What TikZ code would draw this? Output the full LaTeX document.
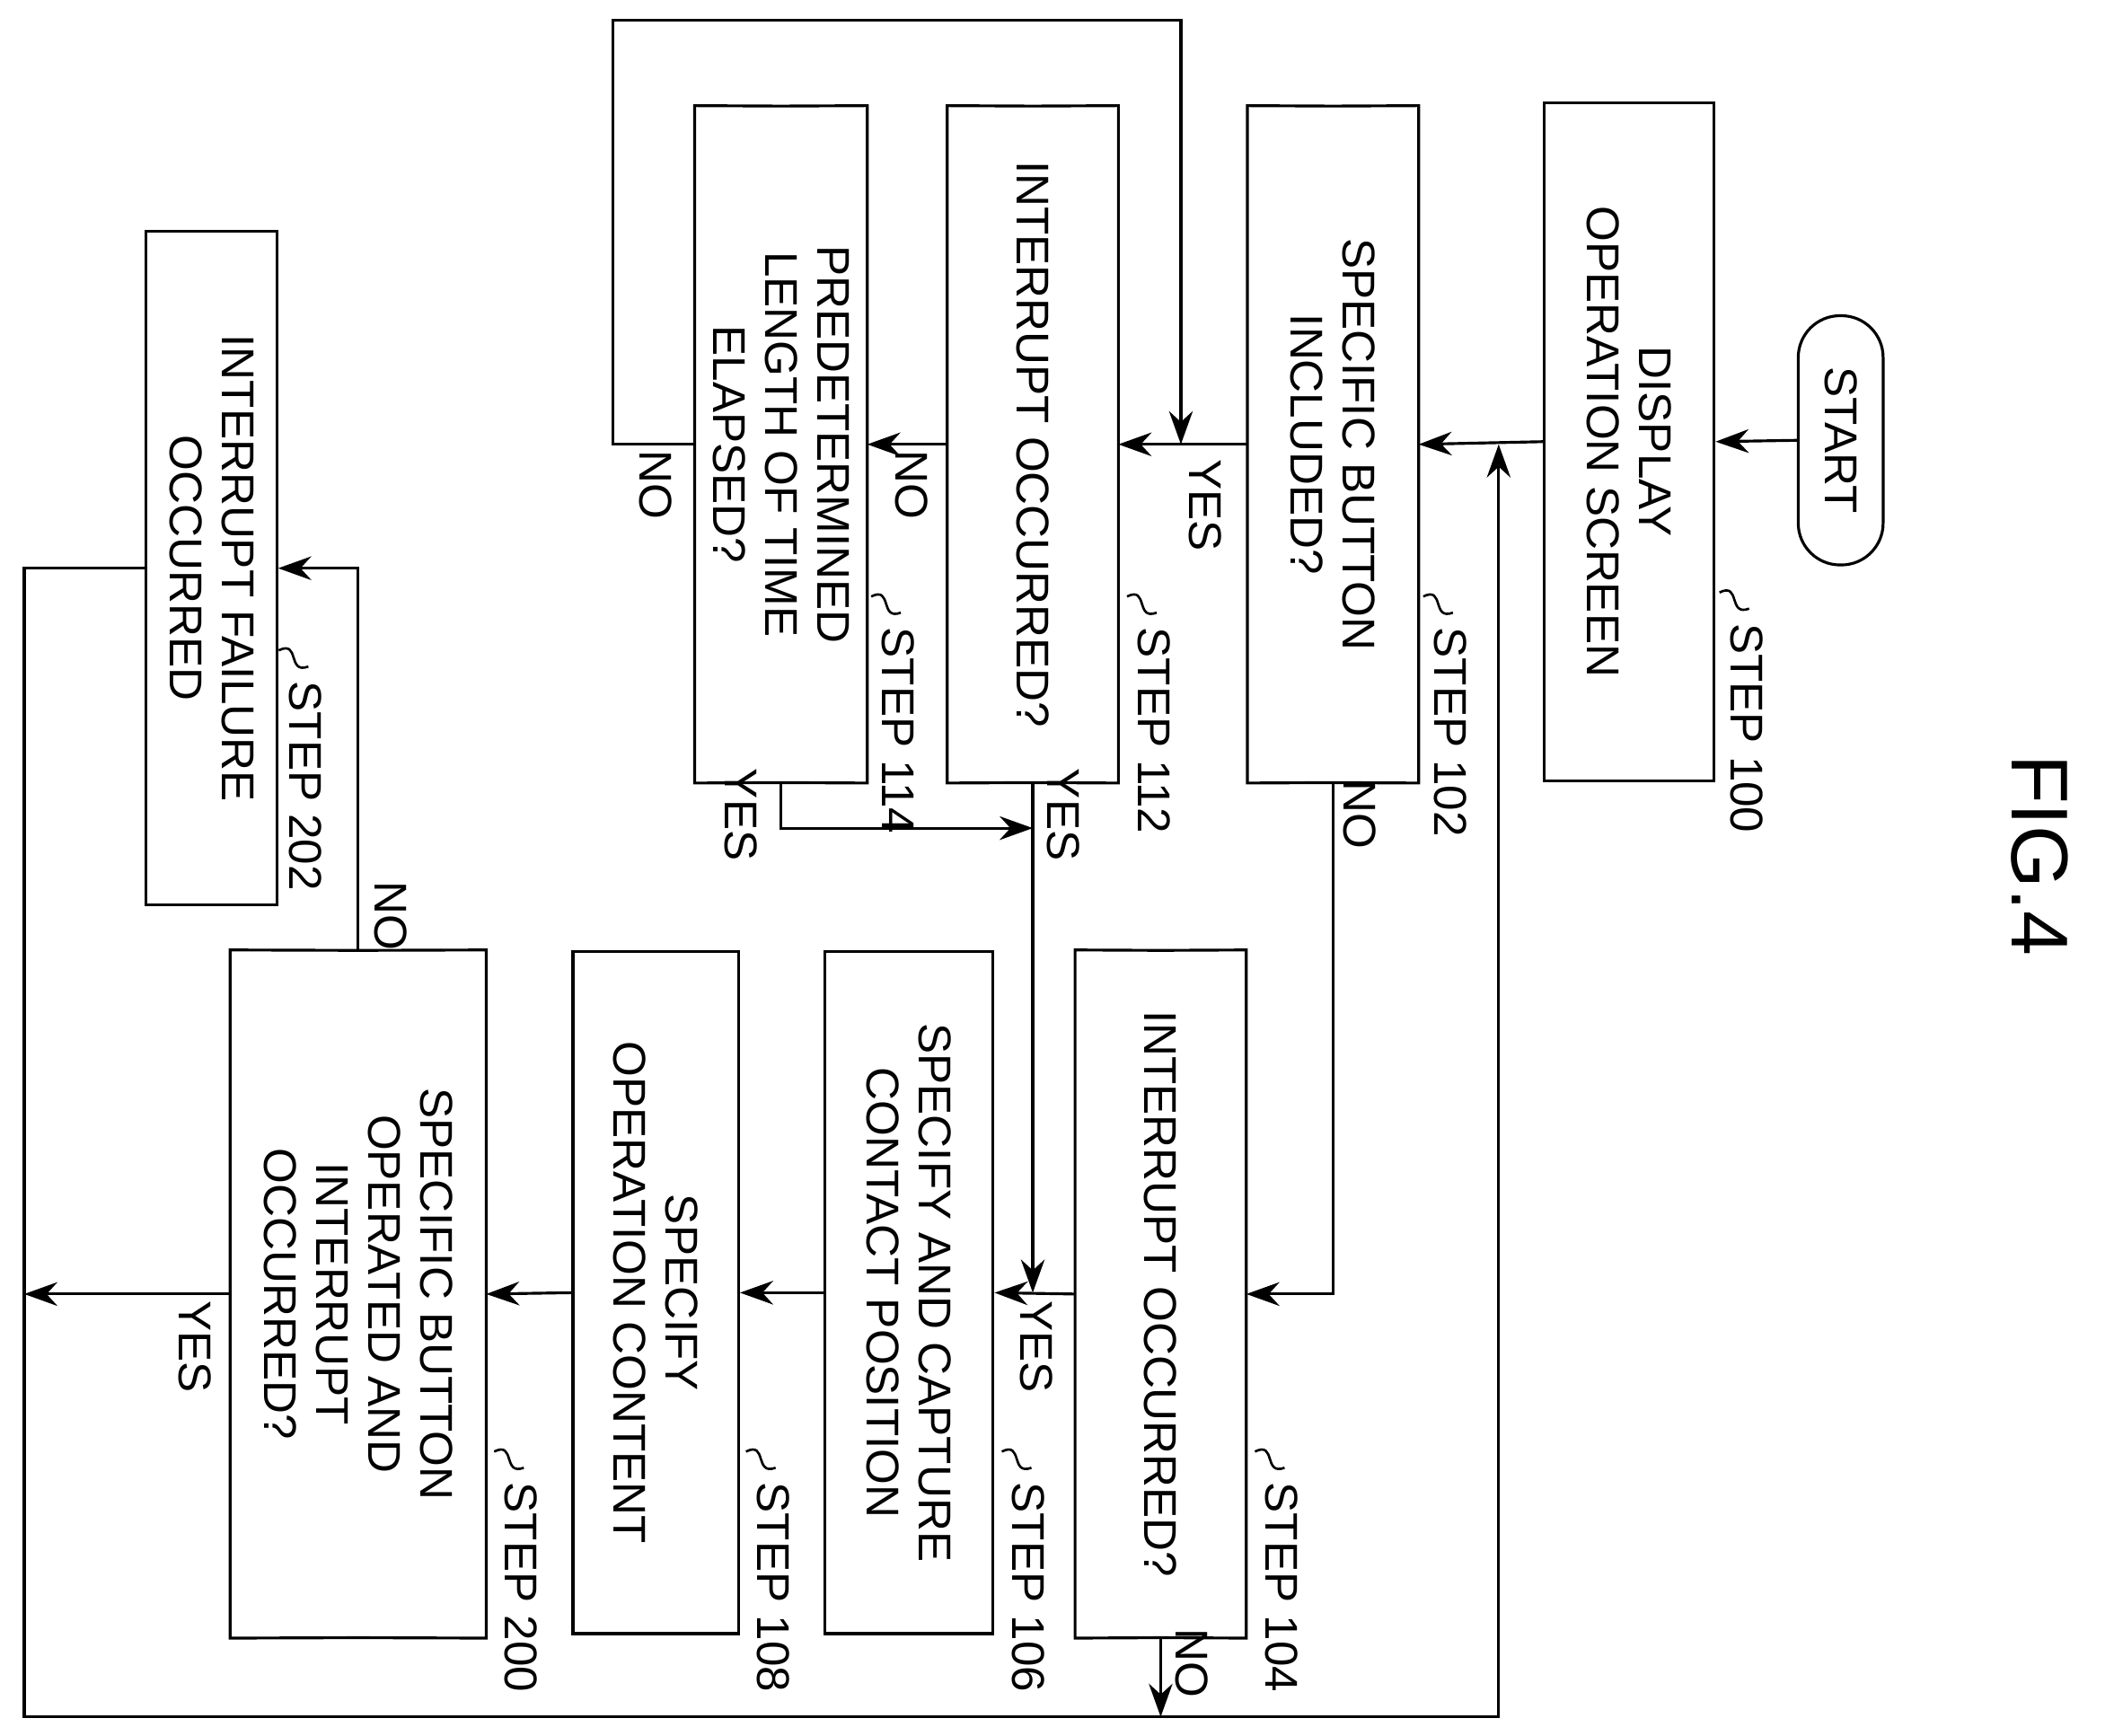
\documentclass[tikz,border=0pt]{standalone}
\usepackage{fontspec}
\setmainfont{Liberation Sans}
\usetikzlibrary{calc,arrows.meta}
\begin{document}
\begin{tikzpicture}[x=0.01cm,y=-0.01cm,line width=0.6pt,
  >={Stealth[length=7pt,width=5pt]},
  box/.style={draw,rectangle,inner sep=0pt},
  hex/.style={rectangle,inner sep=0pt},
  txt/.style={rotate=-90,align=center,font=\fontsize{9.7}{11}\selectfont},
  lbl/.style={rotate=-90,font=\fontsize{9.7}{11}\selectfont,anchor=west,inner sep=0pt}]
\useasboundingbox (0,0) rectangle (1570,1289);
\newcommand{\hexdraw}[1]{\draw (#1.north) -- ($(#1.north east)+(0,-0.32)$) -- ($(#1.south east)+(0,0.32)$) -- (#1.south) -- ($(#1.south west)+(0,0.32)$) -- ($(#1.north west)+(0,-0.32)$) -- cycle;}
\newcommand{\steplbl}[4]{\node[lbl] (#1) at (#2,#3) {#4};
  \draw[line width=0.5pt] (#2-20,#3-22) .. controls (#2-4,#3-30) and (#2-14,#3-4) .. (#2+2,#3-10);}
% nodes
\node[box,rounded corners=0.31cm,minimum width=0.63cm,minimum height=1.85cm] (start) at (1367,327) {};
\node[txt] at (start.center) {START};
\node[box,minimum width=1.26cm,minimum height=5.03cm] (b100) at (1210,328) {};
\node[txt] at (b100.center) {DISPLAY\\OPERATION SCREEN};
\node[hex,minimum width=1.25cm,minimum height=5.0cm] (d102) at (990,330) {};\hexdraw{d102}
\node[txt] at (d102.center) {SPECIFIC BUTTON\\INCLUDED?};
\node[hex,minimum width=1.25cm,minimum height=5.0cm] (d112) at (767,330) {};\hexdraw{d112}
\node[txt] at (d112.center) {INTERRUPT OCCURRED?};
\node[hex,minimum width=1.26cm,minimum height=5.0cm] (d114) at (580,330) {};\hexdraw{d114}
\node[txt] at (d114.center) {PREDETERMINED\\LENGTH OF TIME\\ELAPSED?};
\node[hex,minimum width=1.25cm,minimum height=5.08cm] (d104) at (862,961) {};\hexdraw{d104}
\node[txt] at (d104.center) {INTERRUPT OCCURRED?};
\node[box,minimum width=1.25cm,minimum height=5.06cm] (b106) at (675,960) {};
\node[txt] at (b106.center) {SPECIFY AND CAPTURE\\CONTACT POSITION};
\node[box,minimum width=1.23cm,minimum height=5.06cm] (b108) at (487,960) {};
\node[txt] at (b108.center) {SPECIFY\\OPERATION CONTENT};
\node[hex,minimum width=1.88cm,minimum height=5.08cm] (d200) at (266,961) {};\hexdraw{d200}
\node[txt] at (d200.center) {SPECIFIC BUTTON\\OPERATED AND\\INTERRUPT\\OCCURRED?};
\node[box,minimum width=0.97cm,minimum height=5.0cm] (b202) at (157,422) {};
\node[txt] at (b202.center) {INTERRUPT FAILURE\\OCCURRED};
% coordinates
\coordinate (c1) at (455,330); \coordinate (c2) at (455,15);
\coordinate (c3) at (877,15); \coordinate (j1) at (877,330);
\coordinate (j2) at (767,960); \coordinate (c4) at (580,615);
\coordinate (j3) at (767,615); \coordinate (c5) at (990,961);
\coordinate (e1) at (18,961); \coordinate (c6) at (266,422);
\coordinate (c7) at (18,422); \coordinate (c8) at (18,1275);
\coordinate (c9) at (1113,1275); \coordinate (j4) at (1113,330);
\coordinate (j5) at (862,1275);
% connectors
\draw[->] (start.west) -- (b100.east);
\draw[->] (b100.west) -- (d102.east);
\draw[->] (d102.west) -- (d112.east);
\draw[->] (d112.west) -- (d114.east);
\draw[->] (d114.west) -- (c1) -- (c2) -- (c3) -- (j1);
\draw[->] (d112.south) -- (j2);
\draw[->] (d114.south) -- (c4) -- (j3);
\draw[->] (d102.south) -- (c5) -- (d104.east);
\draw[->] (d104.west) -- (b106.east);
\draw[->] (b106.west) -- (b108.east);
\draw[->] (b108.west) -- (d200.east);
\draw[->] (d200.west) -- (e1);
\draw[->] (d200.north) -- (c6) -- (b202.east);
\draw[->] (b202.west) -- (c7) -- (c8) -- (c9) -- (j4);
\draw[->] (d104.south) -- (j5);
% yes/no
\node[txt] (y1) at (895,375) {YES};
\node[txt] (n1) at (1010,605) {NO};
\node[txt] (n2) at (677,360) {NO};
\node[txt] (n3) at (487,360) {NO};
\node[txt] (y2) at (790,605) {YES};
\node[txt] (y3) at (550,605) {YES};
\node[txt] (y4) at (770,1000) {YES};
\node[txt] (n4) at (885,1235) {NO};
\node[txt] (y5) at (145,1000) {YES};
\node[txt] (n5) at (290,680) {NO};
% step labels
\steplbl{s100}{1297}{462}{STEP 100}
\steplbl{s102}{1077}{465}{STEP 102}
\steplbl{s112}{857}{465}{STEP 112}
\steplbl{s114}{667}{465}{STEP 114}
\steplbl{s104}{952}{1100}{STEP 104}
\steplbl{s106}{764}{1100}{STEP 106}
\steplbl{s108}{574}{1100}{STEP 108}
\steplbl{s200}{387}{1100}{STEP 200}
\steplbl{s202}{227}{505}{STEP 202}
\node[rotate=-90,font=\fontsize{17}{20}\selectfont] (fig) at (1515,635) {FIG.4};
\end{tikzpicture}
\end{document}
